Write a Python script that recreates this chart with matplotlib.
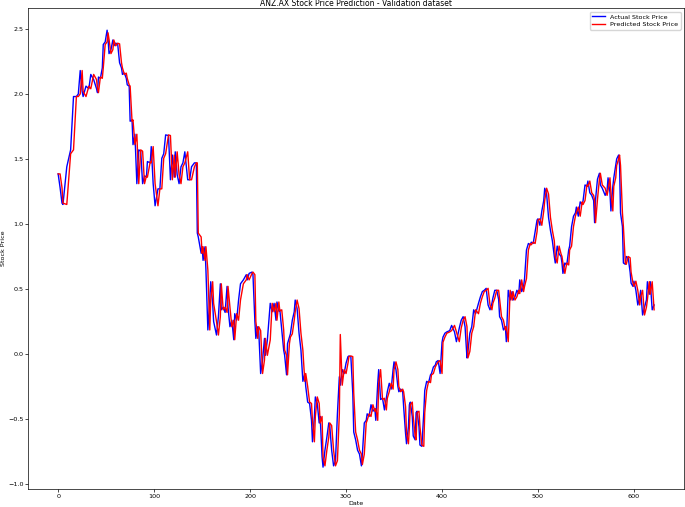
import matplotlib
matplotlib.use("Agg")
import matplotlib.pyplot as plt

days = [
    0, 2, 4, 5, 9, 12, 13, 16, 19, 21,
    23, 25, 26, 29, 32, 34, 37, 40, 41, 42,
    44, 46, 47, 49, 51, 52, 53, 55, 57, 58,
    60, 62, 64, 66, 67, 69, 71, 72, 74, 75,
    77, 78, 80, 82, 84, 86, 88, 90, 92, 93,
    96, 97, 99, 101, 104, 106, 108, 110, 112, 115,
    117, 119, 121, 122, 124, 126, 128, 130, 132, 135,
    137, 139, 142, 144, 145, 146, 149, 150, 151, 153,
    154, 156, 158, 159, 161, 162, 165, 167, 169, 170,
    172, 174, 176, 177, 179, 181, 183, 184, 186, 188,
    190, 193, 196, 197, 199, 202, 203, 205, 206, 208,
    209, 211, 213, 215, 216, 218, 221, 223, 225, 227,
    228, 230, 231, 233, 235, 236, 238, 239, 241, 242,
    244, 246, 247, 249, 251, 253, 255, 257, 258, 260,
    262, 264, 265, 267, 268, 270, 272, 273, 275, 276,
    278, 280, 282, 283, 285, 287, 289, 291, 293, 294,
    296, 298, 300, 302, 303, 305, 307, 308, 310, 312,
    314, 316, 317, 319, 321, 322, 324, 326, 328, 330,
    331, 333, 334, 336, 338, 340, 342, 343, 345, 347,
    349, 350, 352, 354, 355, 357, 359, 360, 362, 363,
    365, 366, 367, 369, 370, 372, 373, 374, 376, 377,
    379, 381, 382, 384, 386, 388, 389, 391, 393, 394,
    396, 398, 400, 401, 403, 405, 408, 410, 413, 415,
    418, 420, 422, 424, 426, 427, 429, 431, 433, 435,
    438, 440, 442, 444, 446, 448, 450, 452, 453, 455,
    457, 459, 460, 462, 464, 466, 467, 469, 471, 473,
    474, 476, 478, 480, 481, 483, 485, 486, 488, 490,
    492, 493, 495, 497, 499, 500, 502, 504, 506, 507,
    509, 511, 513, 515, 517, 518, 520, 522, 524, 525,
    526, 528, 530, 532, 533, 535, 537, 539, 540, 542,
    544, 546, 547, 549, 551, 552, 554, 556, 558, 559,
    560, 562, 564, 565, 567, 570, 572, 573, 575, 576,
    578, 579, 581, 582, 584, 585, 586, 588, 589, 591,
    592, 594, 596, 597, 599, 600, 602, 604, 606, 607,
    609, 611, 613, 614, 616, 617, 619, 621,
]

actual_price = [
    1.385, 1.28, 1.16, 1.15, 1.44, 1.54, 1.57, 1.98, 1.98, 2.00,
    2.18, 2.02, 1.98, 2.06, 2.04, 2.15, 2.11, 2.04, 2.01, 2.13,
    2.12, 2.20, 2.38, 2.40, 2.49, 2.42, 2.31, 2.34, 2.415, 2.37,
    2.39, 2.385, 2.24, 2.20, 2.15, 2.16, 2.12, 2.07, 2.06, 1.79,
    1.80, 1.61, 1.69, 1.31, 1.57, 1.56, 1.31, 1.37, 1.36, 1.48,
    1.47, 1.595, 1.31, 1.14, 1.27, 1.27, 1.505, 1.54, 1.685, 1.68,
    1.34, 1.53, 1.36, 1.555, 1.38, 1.31, 1.44, 1.47, 1.555, 1.34,
    1.34, 1.44, 1.47, 1.47, 0.93, 0.90, 0.775, 0.825, 0.72, 0.825,
    0.645, 0.185, 0.415, 0.556, 0.39, 0.25, 0.146, 0.287, 0.54, 0.34,
    0.36, 0.32, 0.52, 0.36, 0.21, 0.26, 0.11, 0.31, 0.26, 0.415,
    0.54, 0.57, 0.61, 0.57, 0.62, 0.63, 0.61, 0.25, 0.12, 0.21,
    0.18, -0.15, -0.046, 0.12, -0.01, 0.108, 0.39, 0.325, 0.39, 0.26,
    0.40, 0.33, 0.34, 0.185, 0.03, -0.01, -0.16, 0.08, 0.13, 0.155,
    0.26, 0.325, 0.415, 0.35, 0.16, 0.03, -0.21, -0.15, -0.25, -0.37,
    -0.38, -0.51, -0.675, -0.48, -0.33, -0.38, -0.53, -0.48, -0.79, -0.87,
    -0.74, -0.64, -0.53, -0.55, -0.74, -0.86, -0.82, -0.46, -0.175, -0.24,
    -0.12, -0.15, -0.07, -0.02, -0.015, -0.02, -0.30, -0.60, -0.66, -0.74,
    -0.77, -0.86, -0.77, -0.53, -0.51, -0.46, -0.48, -0.39, -0.44, -0.42,
    -0.51, -0.225, -0.12, -0.35, -0.34, -0.43, -0.34, -0.29, -0.225, -0.27,
    -0.12, -0.06, -0.12, -0.25, -0.29, -0.27, -0.29, -0.405, -0.61, -0.69,
    -0.56, -0.39, -0.37, -0.48, -0.63, -0.66, -0.45, -0.44, -0.56, -0.70,
    -0.71, -0.45, -0.28, -0.21, -0.22, -0.16, -0.15, -0.10, -0.085, -0.06,
    -0.05, -0.15, 0.09, 0.13, 0.16, 0.17, 0.18, 0.22, 0.17, 0.095,
    0.20, 0.26, 0.287, 0.21, -0.03, 0.02, 0.16, 0.21, 0.34, 0.31,
    0.39, 0.44, 0.48, 0.49, 0.505, 0.377, 0.34, 0.39, 0.43, 0.49,
    0.49, 0.42, 0.287, 0.26, 0.185, 0.21, 0.095, 0.49, 0.415, 0.48,
    0.415, 0.44, 0.49, 0.465, 0.57, 0.48, 0.52, 0.58, 0.80, 0.85,
    0.84, 0.86, 0.85, 0.94, 1.03, 1.04, 0.99, 1.10, 1.18, 1.275,
    1.23, 1.05, 0.95, 0.87, 0.75, 0.70, 0.83, 0.77, 0.75, 0.70,
    0.62, 0.70, 0.685, 0.80, 0.83, 0.98, 1.06, 1.085, 1.13, 1.06,
    1.17, 1.15, 1.18, 1.30, 1.29, 1.33, 1.24, 1.22, 1.18, 1.01,
    1.19, 1.345, 1.39, 1.30, 1.275, 1.22, 1.26, 1.355, 1.24, 1.10,
    1.29, 1.355, 1.45, 1.50, 1.53, 1.45, 1.085, 0.98, 0.70, 0.69,
    0.75, 0.74, 0.63, 0.545, 0.52, 0.56, 0.49, 0.377, 0.44, 0.49,
    0.30, 0.36, 0.415, 0.556, 0.46, 0.556, 0.34, 0.377,
]

predicted_price = [
    1.385, 1.385, 1.28, 1.16, 1.15, 1.44, 1.54, 1.57, 1.98, 1.98,
    2.00, 2.18, 2.02, 1.98, 2.06, 2.04, 2.15, 2.11, 2.04, 2.01,
    2.13, 2.12, 2.20, 2.38, 2.40, 2.47, 2.42, 2.31, 2.34, 2.415,
    2.37, 2.39, 2.385, 2.24, 2.20, 2.15, 2.16, 2.12, 2.07, 2.06,
    1.79, 1.80, 1.61, 1.69, 1.31, 1.57, 1.56, 1.31, 1.37, 1.36,
    1.48, 1.47, 1.595, 1.31, 1.14, 1.27, 1.27, 1.505, 1.54, 1.685,
    1.68, 1.34, 1.53, 1.36, 1.555, 1.38, 1.31, 1.44, 1.47, 1.555,
    1.34, 1.34, 1.44, 1.47, 1.47, 0.93, 0.90, 0.775, 0.825, 0.72,
    0.825, 0.645, 0.185, 0.415, 0.556, 0.39, 0.25, 0.146, 0.287, 0.54,
    0.34, 0.36, 0.32, 0.52, 0.36, 0.21, 0.26, 0.11, 0.31, 0.26,
    0.415, 0.54, 0.57, 0.61, 0.57, 0.62, 0.63, 0.61, 0.25, 0.12,
    0.21, 0.18, -0.15, -0.046, 0.12, -0.01, 0.108, 0.39, 0.325, 0.39,
    0.26, 0.40, 0.33, 0.34, 0.185, 0.03, -0.01, -0.16, 0.08, 0.13,
    0.155, 0.26, 0.325, 0.415, 0.35, 0.16, 0.03, -0.21, -0.15, -0.25,
    -0.37, -0.38, -0.51, -0.675, -0.48, -0.33, -0.38, -0.53, -0.48, -0.79,
    -0.86, -0.74, -0.64, -0.53, -0.55, -0.74, -0.86, -0.82, -0.46, 0.15,
    -0.24, -0.12, -0.15, -0.07, -0.02, -0.015, -0.02, -0.30, -0.60, -0.66,
    -0.74, -0.77, -0.85, -0.77, -0.53, -0.51, -0.46, -0.48, -0.39, -0.44,
    -0.42, -0.51, -0.225, -0.12, -0.35, -0.34, -0.43, -0.34, -0.29, -0.225,
    -0.27, -0.12, -0.06, -0.12, -0.25, -0.29, -0.27, -0.29, -0.405, -0.61,
    -0.69, -0.56, -0.39, -0.37, -0.48, -0.63, -0.66, -0.45, -0.44, -0.56,
    -0.70, -0.71, -0.45, -0.28, -0.21, -0.22, -0.16, -0.15, -0.10, -0.085,
    -0.06, -0.05, -0.15, 0.09, 0.13, 0.16, 0.17, 0.18, 0.22, 0.17,
    0.095, 0.20, 0.26, 0.287, 0.21, -0.03, 0.02, 0.16, 0.21, 0.34,
    0.31, 0.39, 0.44, 0.48, 0.49, 0.505, 0.377, 0.34, 0.39, 0.43,
    0.49, 0.49, 0.42, 0.287, 0.26, 0.185, 0.21, 0.095, 0.49, 0.415,
    0.48, 0.415, 0.44, 0.49, 0.465, 0.57, 0.48, 0.52, 0.58, 0.80,
    0.85, 0.84, 0.86, 0.85, 0.94, 1.03, 1.04, 0.99, 1.10, 1.18,
    1.275, 1.23, 1.05, 0.95, 0.87, 0.75, 0.70, 0.83, 0.77, 0.75,
    0.70, 0.62, 0.70, 0.685, 0.80, 0.83, 0.98, 1.06, 1.085, 1.13,
    1.06, 1.17, 1.15, 1.18, 1.30, 1.29, 1.33, 1.24, 1.22, 1.18,
    1.01, 1.19, 1.345, 1.39, 1.30, 1.275, 1.22, 1.26, 1.355, 1.24,
    1.10, 1.29, 1.355, 1.45, 1.50, 1.53, 1.45, 1.085, 0.98, 0.70,
    0.69, 0.75, 0.74, 0.63, 0.545, 0.52, 0.56, 0.49, 0.377, 0.44,
    0.49, 0.30, 0.36, 0.415, 0.556, 0.46, 0.556, 0.34,
]

assert len(days) == len(actual_price) == len(predicted_price), (
    len(days), len(actual_price), len(predicted_price))

plt.rcParams['font.family'] = ['DejaVu Sans']
fs = 4.6

fig = plt.figure(figsize=(6.85, 5.07), dpi=100)
ax = fig.add_axes([0.0414, 0.0355, 0.957, 0.948])

ax.plot(days, actual_price, color='blue', lw=1.0, label='Actual Stock Price')
ax.plot(days, predicted_price, color='red', lw=1.0, label='Predicted Stock Price')

ax.set_title('ANZ.AX Stock Price Prediction - Validation dataset', fontsize=5.5, pad=2)
ax.set_xlabel('Date', fontsize=fs, labelpad=1.5)
ax.set_ylabel('Stock Price', fontsize=fs, labelpad=1.5)
ax.tick_params(labelsize=fs, length=2, width=0.5, pad=1.5)
for s in ax.spines.values():
    s.set_linewidth(0.5)
ax.set_yticks([-1.0, -0.5, 0.0, 0.5, 1.0, 1.5, 2.0, 2.5])
ax.legend(loc='upper right', fontsize=fs, handlelength=2.0, framealpha=0.8,
          borderpad=0.4, labelspacing=0.3)

fig.savefig('out.png', dpi=100)
